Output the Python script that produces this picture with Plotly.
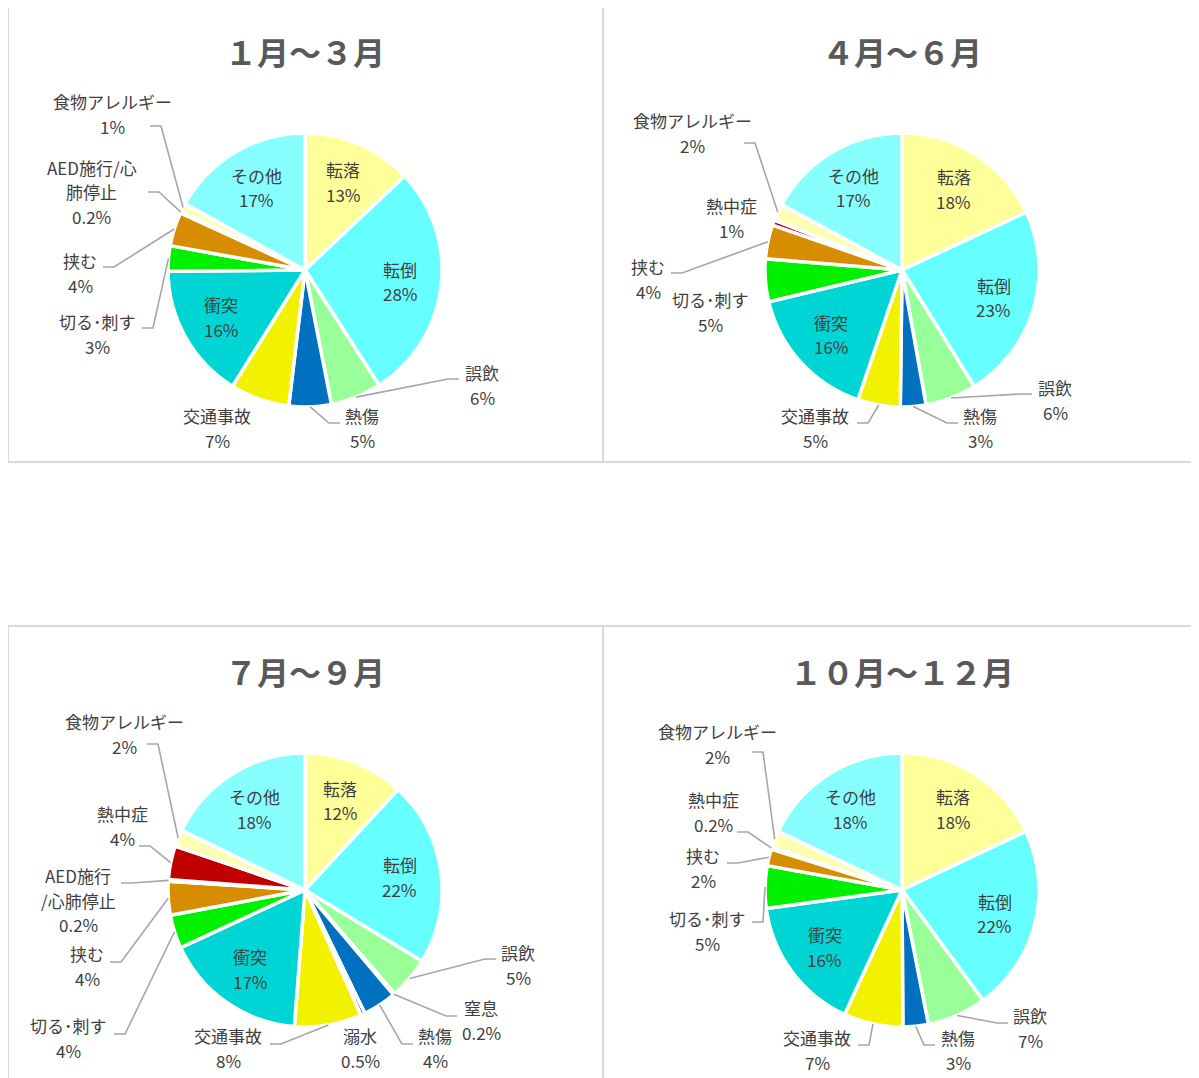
import math
import plotly.graph_objects as go

# Categories (clockwise from 12 o'clock)
categories = ["転落", "転倒", "誤飲", "窒息", "熱傷", "溺水", "交通事故", "衝突",
              "切る･刺す", "挟む", "AED施行/心肺停止", "熱中症", "食物アレルギー", "その他"]

colors = ["#FFFF99", "#66FFFF", "#99FF99", "#A6A6A6", "#0070C0", "#002060", "#F2F200",
          "#00D5D5", "#00F000", "#D68E00", "#FFC000", "#C00000", "#FFFFB3", "#88FFFF"]

titles = ["１月～３月", "４月～６月", "７月～９月", "１０月～１２月"]

# Share of injuries (%) per quarter, None = category absent
q1_values = [13, 28, 6, None, 5, None, 7, 16, 3, 4, 0.2, None, 1, 17]
q2_values = [18, 23, 6, None, 3, None, 5, 16, 5, 4, None, 0.6, 2, 17]
q3_values = [12, 22, 5, 0.2, 4, 0.5, 8, 17, 4, 4, 0.2, 4, 2, 18]
q4_values = [18, 22, 7, None, 3, None, 7, 16, 5, 2, None, 0.2, 2, 18]

inside_cats = {"転落", "転倒", "衝突", "その他"}

# Label wording per panel
label_names = [
    {"AED施行/心肺停止": "AED施行/心<br>肺停止"},
    {},
    {"AED施行/心肺停止": "AED施行<br>/心肺停止"},
    {},
]

# Outside label placement (page px): label centre x, centre y, leader anchor (or None)
label_pos = [
    {"食物アレルギー": (112, 114, (150, 126)), "AED施行/心肺停止": (92, 192, (148, 192)),
     "挟む": (80, 273, (103, 267)), "切る･刺す": (97, 334, (142, 328)),
     "交通事故": (217, 428, None), "熱傷": (362, 428, (340, 423)),
     "誤飲": (482, 385, (459, 379))},
    {"食物アレルギー": (692, 133, (744, 143)), "熱中症": (731, 218, None),
     "挟む": (648, 279, (671, 273)), "切る･刺す": (710, 312, None),
     "交通事故": (815, 428, (857, 423)), "熱傷": (980, 428, (958, 423)),
     "誤飲": (1055, 400, (1032, 394))},
    {"食物アレルギー": (124, 734, (147, 744)), "熱中症": (122, 826, (139, 846)),
     "AED施行/心肺停止": (78, 900, (121, 883)), "挟む": (87, 966, (110, 962)),
     "切る･刺す": (68, 1038, (114, 1034)), "交通事故": (228, 1048, (270, 1044)),
     "溺水": (360, 1048, None), "熱傷": (435, 1048, (413, 1044)),
     "窒息": (481, 1020, (457, 1016)), "誤飲": (518, 965, (496, 959))},
    {"食物アレルギー": (717, 744, (752, 752)), "熱中症": (713, 812, (737, 832)),
     "挟む": (703, 868, (727, 863)), "切る･刺す": (707, 931, (752, 922)),
     "交通事故": (817, 1050, (858, 1045)), "熱傷": (958, 1050, (935, 1045)),
     "誤飲": (1030, 1028, (1008, 1023))},
]

W, H = 1199, 1078
OFF = 8  # page margin of the html body
centers = [(305, 270), (902, 270), (305, 890), (902, 890)]
title_y = [51, 51, 671, 671]
R = 137
INSIDE_FRAC = 0.7
LH = 24.5  # label line spacing (px)

FONT = "Noto Sans CJK JP"
TXT = "#404040"
LINE = "#A6A6A6"


def px(x):
    return (x - OFF) / W


def py(y):
    return 1 - (y - OFF) / H


def pct_text(v):
    return f"{v:g}%" if v < 0.6 else f"{round(v)}%"


fig = go.Figure()

for i, vals in enumerate([q1_values, q2_values, q3_values, q4_values]):
    names = label_names[i]
    labs, vs, cols, txt = [], [], [], []
    for c, v, col in zip(categories, vals, colors):
        if v is None:
            continue
        labs.append(c)
        vs.append(v)
        cols.append(col)
        txt.append(names.get(c, c) + "<br>" + pct_text(v))
    cx, cy = centers[i]
    fig.add_trace(go.Pie(
        labels=labs,
        values=vs,
        text=txt,
        textinfo="none",
        sort=False,
        direction="clockwise",
        rotation=0,
        automargin=False,
        marker=dict(colors=cols, line=dict(color="white", width=3.5)),
        domain=dict(x=[px(cx - R), px(cx + R)], y=[py(cy + R), py(cy - R)]),
        showlegend=False,
        hoverinfo="label+text",
    ))

    # data labels; positions follow each slice's mid-angle
    total = sum(vs)
    cum = 0
    for c, v, t in zip(labs, vs, txt):
        mid = (cum + v / 2) / total * 2 * math.pi
        cum += v
        if c in inside_cats:
            lx = cx + INSIDE_FRAC * R * math.sin(mid)
            ly = cy - INSIDE_FRAC * R * math.cos(mid)
            anchor = None
        else:
            lx, ly, anchor = label_pos[i][c]
        lines = t.split("<br>")
        for k, line in enumerate(lines):
            fig.add_annotation(
                x=px(lx), y=py(ly + (k - (len(lines) - 1) / 2) * LH),
                xref="paper", yref="paper",
                text=line, showarrow=False,
                xanchor="center", yanchor="middle",
                font=dict(family=FONT, size=17, color=TXT),
            )
        if anchor is None:
            continue
        ex = cx + R * math.sin(mid)
        ey = cy - R * math.cos(mid)
        ax, ay = anchor
        elbow = ax + (11 if ax < ex else -11)
        path = (f"M {px(ax)},{py(ay)} L {px(elbow)},{py(ay)} "
                f"L {px(ex)},{py(ey)}")
        fig.add_shape(type="path", xref="paper", yref="paper", path=path,
                      line=dict(color=LINE, width=1.6))

    fig.add_annotation(
        x=px(cx), y=py(title_y[i]), xref="paper", yref="paper",
        text=f"<b>{titles[i]}</b>", showarrow=False,
        xanchor="center", yanchor="middle",
        font=dict(family=FONT, size=32, color="#595959"),
    )

# Panel frames
panels = [(8, 5, 603, 462), (603, 5, 1215, 462), (8, 626, 603, 1095), (603, 626, 1215, 1095)]
for x0, y0, x1, y1 in panels:
    fig.add_shape(type="rect", xref="paper", yref="paper",
                  x0=px(x0), x1=px(x1), y0=py(y1), y1=py(y0),
                  line=dict(color="#D9D9D9", width=2), fillcolor="rgba(0,0,0,0)")

fig.update_layout(
    width=W, height=H,
    autosize=False,
    margin=dict(l=0, r=0, t=0, b=0),
    paper_bgcolor="white",
    plot_bgcolor="white",
)

fig.write_html("out.html")
